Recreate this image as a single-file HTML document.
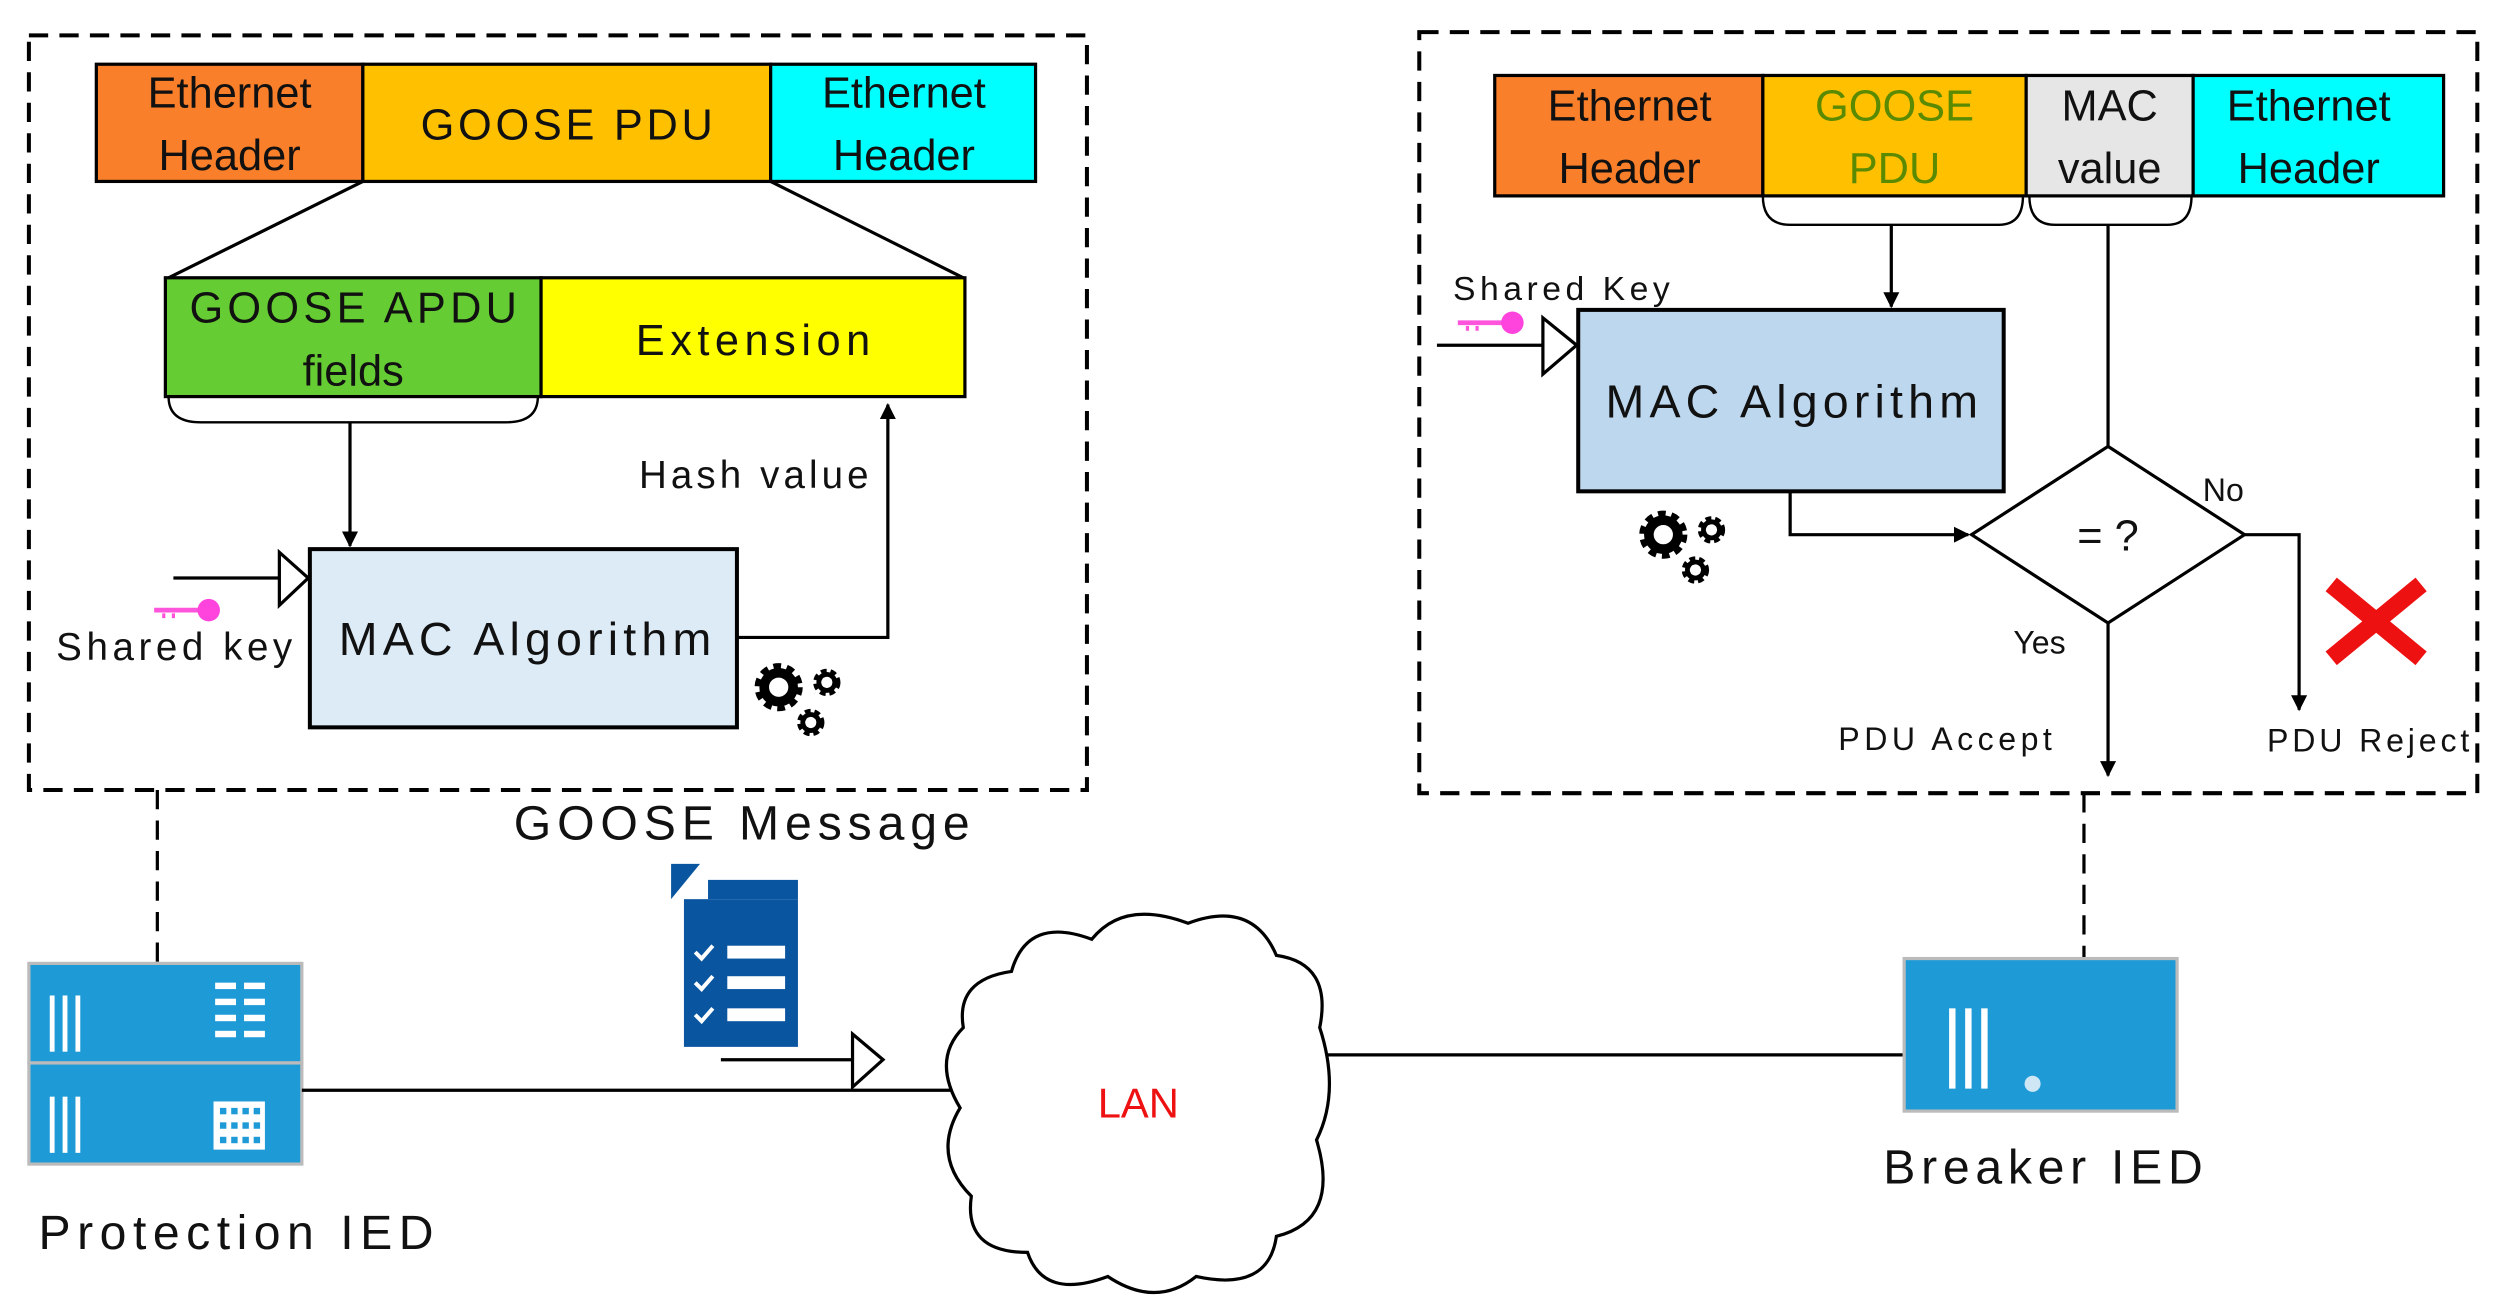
<!DOCTYPE html>
<html><head><meta charset="utf-8"><style>
html,body{margin:0;padding:0;background:#fff;}
svg{display:block;}
text{font-family:"Liberation Sans",sans-serif;fill:#111;}
</style></head><body>
<svg width="2503" height="1311" viewBox="0 0 1559 816.5" preserveAspectRatio="none" xmlns="http://www.w3.org/2000/svg">
<defs>
<marker id="ar" markerWidth="10" markerHeight="10" refX="9" refY="5" orient="auto" markerUnits="userSpaceOnUse"><path d="M0,0 L10,5 L0,10 z" fill="#000"/></marker>
<g id="gears">
<circle cx="0" cy="0" r="11" fill="none" stroke="#000" stroke-width="8" stroke-dasharray="4 3"/>
<circle cx="0" cy="0" r="9" fill="none" stroke="#000" stroke-width="6"/>
<circle cx="30" cy="-3" r="6" fill="none" stroke="#000" stroke-width="5" stroke-dasharray="3 2"/>
<circle cx="30" cy="-3" r="5" fill="none" stroke="#000" stroke-width="3"/>
<circle cx="20" cy="22" r="6" fill="none" stroke="#000" stroke-width="5" stroke-dasharray="3 2"/>
<circle cx="20" cy="22" r="5" fill="none" stroke="#000" stroke-width="3"/>
</g>
<g id="key"><line x1="0" y1="0" x2="30" y2="0" stroke="#ff55dd" stroke-width="3"/><circle cx="34" cy="0" r="7" fill="#ff44dd"/><line x1="6" y1="2" x2="6" y2="5" stroke="#ff55dd" stroke-width="2"/><line x1="12" y1="2" x2="12" y2="5" stroke="#ff55dd" stroke-width="2"/></g>
</defs>

<rect x="18" y="22" width="659" height="470" fill="none" stroke="#000" stroke-width="2.5" stroke-dasharray="12 7"/>
<rect x="60" y="40" width="166" height="73" fill="#f97f2a" stroke="#000" stroke-width="2"/>
<rect x="226" y="40" width="254" height="73" fill="#ffc000" stroke="#000" stroke-width="2"/>
<rect x="480" y="40" width="165" height="73" fill="#00ffff" stroke="#000" stroke-width="2"/>
<g font-size="27" text-anchor="middle">
<text x="143" y="67">Ethernet</text><text x="143" y="106">Header</text>
<text x="353" y="87" textLength="182">GOOSE PDU</text>
<text x="563" y="67">Ethernet</text><text x="563" y="106">Header</text>
</g>
<line x1="226" y1="113" x2="105" y2="173" stroke="#000" stroke-width="2"/>
<line x1="480" y1="113" x2="600" y2="173" stroke="#000" stroke-width="2"/>
<rect x="103" y="173" width="234" height="74" fill="#66cc33" stroke="#000" stroke-width="2"/>
<rect x="337" y="173" width="264" height="74" fill="#ffff00" stroke="#000" stroke-width="2"/>
<g font-size="27" text-anchor="middle">
<text x="220" y="201" textLength="204">GOOSE APDU</text><text x="220" y="240">fields</text>
<text x="469" y="221" textLength="146">Extension</text>
</g>
<path d="M105,247 Q105,263 125,263 L315,263 Q335,263 335,247" fill="none" stroke="#000" stroke-width="1.5"/>
<line x1="218" y1="263" x2="218" y2="340" stroke="#000" stroke-width="2" marker-end="url(#ar)"/>
<rect x="193" y="342" width="266" height="111" fill="#ddebf7" stroke="#000" stroke-width="2.5"/>
<text x="211" y="408" font-size="29" textLength="232">MAC Algorithm</text>
<polyline points="459,397 553,397 553,252" fill="none" stroke="#000" stroke-width="2" marker-end="url(#ar)"/>
<text x="398" y="304" font-size="24" textLength="143">Hash value</text>
<line x1="108" y1="360" x2="174" y2="360" stroke="#000" stroke-width="2"/>
<path d="M174,344 L192,360 L174,377 z" fill="#fff" stroke="#000" stroke-width="2"/>
<use href="#key" x="96" y="380"/>
<text x="35" y="411" font-size="24" textLength="147">Shared key</text>
<use href="#gears" x="485" y="428"/>
<text x="320" y="523" font-size="30" textLength="284">GOOSE Message</text>

<rect x="884" y="20" width="659" height="474" fill="none" stroke="#000" stroke-width="2.5" stroke-dasharray="12 7"/>
<rect x="931" y="47" width="167" height="75" fill="#f97f2a" stroke="#000" stroke-width="2"/>
<rect x="1098" y="47" width="164" height="75" fill="#ffc000" stroke="#000" stroke-width="2"/>
<rect x="1262" y="47" width="104" height="75" fill="#e7e6e6" stroke="#000" stroke-width="2"/>
<rect x="1366" y="47" width="156" height="75" fill="#00ffff" stroke="#000" stroke-width="2"/>
<g font-size="27" text-anchor="middle">
<text x="1015" y="75">Ethernet</text><text x="1015" y="114">Header</text>
<text x="1180" y="75" style="fill:#5a8a00">GOOSE</text><text x="1180" y="114" style="fill:#5a8a00">PDU</text>
<text x="1314" y="75">MAC</text><text x="1314" y="114">value</text>
<text x="1438" y="75">Ethernet</text><text x="1438" y="114">Header</text>
</g>
<path d="M1098,122 Q1098,140 1115,140 L1245,140 Q1260,140 1260,122" fill="none" stroke="#000" stroke-width="1.5"/>
<path d="M1264,122 Q1264,140 1280,140 L1350,140 Q1365,140 1365,122" fill="none" stroke="#000" stroke-width="1.5"/>
<line x1="1178" y1="140" x2="1178" y2="191" stroke="#000" stroke-width="2" marker-end="url(#ar)"/>
<rect x="983" y="193" width="265" height="113" fill="#bdd7ee" stroke="#000" stroke-width="2.5"/>
<text x="1000" y="260" font-size="29" textLength="232">MAC Algorithm</text>
<text x="905" y="187" font-size="21" textLength="135">Shared  Key</text>
<use href="#key" x="908" y="201"/>
<line x1="895" y1="215" x2="961" y2="215" stroke="#000" stroke-width="2"/>
<path d="M961,198 L982,215 L961,233 z" fill="#fff" stroke="#000" stroke-width="2"/>
<use href="#gears" x="1036" y="333"/>
<line x1="1313" y1="140" x2="1313" y2="278" stroke="#000" stroke-width="2"/>
<path d="M1313,278 L1398,333 L1313,388 L1228,333 z" fill="#fff" stroke="#000" stroke-width="2"/>
<text x="1313" y="343" font-size="27" text-anchor="middle">= ?</text>
<polyline points="1115,306 1115,333 1226,333" fill="none" stroke="#000" stroke-width="2" marker-end="url(#ar)"/>
<polyline points="1398,333 1432,333 1432,442" fill="none" stroke="#000" stroke-width="2" marker-end="url(#ar)"/>
<line x1="1313" y1="388" x2="1313" y2="483" stroke="#000" stroke-width="2" marker-end="url(#ar)"/>
<text x="1372" y="312" font-size="20">No</text>
<text x="1254" y="407" font-size="20">Yes</text>
<text x="1145" y="467" font-size="20" textLength="133">PDU Accept</text>
<text x="1412" y="468" font-size="20" textLength="126">PDU Reject</text>
<g stroke="#ee1111" stroke-width="11"><line x1="1452" y1="364" x2="1508" y2="410"/><line x1="1508" y1="364" x2="1452" y2="410"/></g>

<line x1="98" y1="492" x2="98" y2="600" stroke="#000" stroke-width="2" stroke-dasharray="12 7"/>
<line x1="1298" y1="494" x2="1298" y2="597" stroke="#000" stroke-width="2" stroke-dasharray="12 7"/>

<rect x="18" y="600" width="170" height="62" fill="#1e9bd7" stroke="#bbb" stroke-width="2"/>
<rect x="18" y="662" width="170" height="63" fill="#1e9bd7" stroke="#bbb" stroke-width="2"/>
<g fill="#fff">
<rect x="31" y="620" width="3" height="35"/><rect x="39" y="620" width="3" height="35"/><rect x="47" y="620" width="3" height="35"/>
<rect x="31" y="683" width="3" height="35"/><rect x="39" y="683" width="3" height="35"/><rect x="47" y="683" width="3" height="35"/>
<rect x="134" y="612" width="13" height="4"/><rect x="152" y="612" width="13" height="4"/>
<rect x="134" y="622" width="13" height="4"/><rect x="152" y="622" width="13" height="4"/>
<rect x="134" y="632" width="13" height="4"/><rect x="152" y="632" width="13" height="4"/>
<rect x="134" y="642" width="13" height="4"/><rect x="152" y="642" width="13" height="4"/>
<rect x="133" y="686" width="32" height="30"/>
</g>
<g fill="#1e9bd7"><rect x="137" y="690" width="4" height="4"/><rect x="144" y="690" width="4" height="4"/><rect x="151" y="690" width="4" height="4"/><rect x="158" y="690" width="4" height="4"/>
<rect x="137" y="699" width="4" height="4"/><rect x="144" y="699" width="4" height="4"/><rect x="151" y="699" width="4" height="4"/><rect x="158" y="699" width="4" height="4"/>
<rect x="137" y="708" width="4" height="4"/><rect x="144" y="708" width="4" height="4"/><rect x="151" y="708" width="4" height="4"/><rect x="158" y="708" width="4" height="4"/></g>
<text x="24" y="778" font-size="30" textLength="246">Protection IED</text>

<path d="M418,538 L436,538 L418,560 z" fill="#0a55a0"/>
<rect x="441" y="548" width="56" height="12" fill="#0a55a0"/>
<rect x="426" y="560" width="71" height="92" fill="#0a55a0"/>
<g fill="#fff"><rect x="453" y="589" width="36" height="8"/><rect x="453" y="608" width="36" height="8"/><rect x="453" y="628" width="36" height="8"/></g>
<g stroke="#fff" stroke-width="2.5" fill="none"><polyline points="433,593 437,597 444,589"/><polyline points="433,612 437,616 444,608"/><polyline points="433,632 437,636 444,628"/></g>
<line x1="449" y1="660" x2="531" y2="660" stroke="#000" stroke-width="2"/>
<path d="M531,644 L550,660 L531,677 z" fill="#fff" stroke="#000" stroke-width="2"/>

<line x1="188" y1="679" x2="592" y2="679" stroke="#000" stroke-width="2"/>
<line x1="825" y1="657" x2="1186" y2="657" stroke="#000" stroke-width="2"/>

<path d="M630,605 Q640,570 680,585 Q700,560 740,575 Q780,560 795,595 Q830,600 822,640 Q835,680 820,710 Q835,760 795,770 Q790,805 745,795 Q720,815 690,795 Q650,810 640,780 Q600,780 605,745 Q580,720 598,690 Q580,660 600,640 Q595,610 630,605 z" fill="#fff" stroke="#000" stroke-width="2"/>
<text x="709" y="696" font-size="26" text-anchor="middle" style="fill:#ee1111">LAN</text>

<rect x="1186" y="597" width="170" height="95" fill="#1e9bd7" stroke="#bbb" stroke-width="2"/>
<g fill="#fff"><rect x="1214" y="628" width="4" height="50"/><rect x="1224" y="628" width="4" height="50"/><rect x="1234" y="628" width="4" height="50"/></g>
<circle cx="1266" cy="675" r="5" fill="#cfe7f5"/>
<text x="1173" y="737" font-size="30" textLength="199">Breaker IED</text>
</svg>
</body></html>
